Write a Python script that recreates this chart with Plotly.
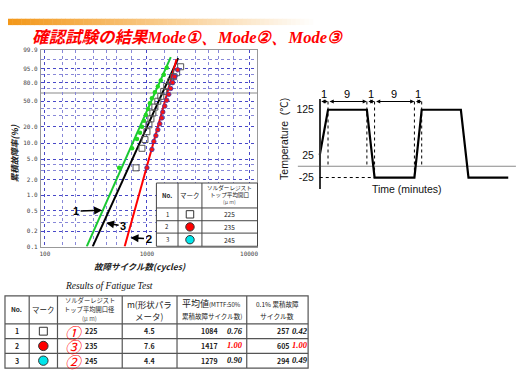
import numpy as np
import plotly.graph_objects as go

W, H = 520, 389
def px(x): return x / W
def py(y): return 1 - y / H

SANS = "Noto Sans CJK JP, Liberation Sans, sans-serif"
SERIF = "Liberation Serif, serif"

# ---------------- Weibull plot data (cycles, cumulative failure %) ----------------
green_cycles = [534, 715, 799, 855, 894, 935, 978, 1023, 1069, 1118, 1196, 1278, 1367, 1462, 1563]
green_pct = [3.4, 8.0, 11.9, 15.5, 19.7, 24.9, 31.2, 38.5, 47.0, 54.7, 64.4, 74.0, 82.7, 89.8, 95.6]
square_cycles = [782, 894, 956, 1000, 1046, 1094, 1143, 1196, 1278, 1367, 1462, 1563, 1709, 1828, 1955, 2139]
square_pct = [3.4, 8.0, 11.6, 16.1, 21.3, 26.9, 33.5, 41.3, 50.0, 57.9, 66.0, 74.0, 81.3, 87.7, 91.8, 96.2]
red_cycles = [1000, 1118, 1169, 1223, 1278, 1337, 1398, 1430, 1495, 1563, 1635, 1709, 1788, 1870, 2000]
red_pct = [3.4, 7.6, 10.7, 13.7, 17.5, 22.2, 27.9, 34.7, 42.7, 51.6, 61.1, 70.8, 79.9, 87.7, 94.2]

green_line_cycles = [257, 1712]
green_line_pct = [0.1, 99.37]
black_line_cycles = [294, 2024]
black_line_pct = [0.1, 99.2]
red_line_cycles = [605, 1950]
red_line_pct = [0.1, 99.0]

y_tick_pct = [99.9, 95, 80, 50, 20, 10, 5, 2, 1, 0.5, 0.2, 0.1]
y_tick_text = ["99.9", "95.0", "80.0", "50.0", "20.0", "10.0", "5.0", "2.0", "1.0", "0.5", "0.2", "0.1"]
y_minor_pct = [99, 90, 70, 40, 30, 4, 3, 0.4, 0.3]
char_life_pct = 63.2
x_tick_vals = [100, 1000, 10000]
x_tick_text = ["100", "1000", "10000"]
x_minor_vals = [150, 200, 300, 400, 500, 700, 1500, 2000, 3000, 4000, 5000, 7000]

# ---------------- Temperature profile (schematic) ----------------
temp_time = [0, 1, 5.70, 6.63, 11.45, 12.33, 17.07, 17.99, 22.8]
temp_c = [25, 125, 125, -25, -25, 125, 125, -25, -25]
temp_ticks = [125, 25, -25]
seg_labels = ["1", "9", "1", "9", "1"]

# ---------------- Table data ----------------
nos = ["1", "2", "3"]
openings = ["225", "235", "245"]
circled = ["①", "③", "②"]
m_vals = ["4.5", "7.6", "4.4"]
mttf = ["1084", "1417", "1279"]
mttf_ratio = ["0.76", "1.00", "0.90"]
c01 = ["257", "605", "294"]
c01_ratio = ["0.42", "1.00", "0.49"]
ratio_red = [False, True, False]
mark_kind = ["square", "circle", "circle"]
mark_fill = ["white", "#ff0000", "#00e5ea"]


def wb(p):
    return np.log(-np.log(1 - np.asarray(p, dtype=float) / 100.0))


fig = go.Figure()
for xs, ps, col in [(green_line_cycles, green_line_pct, "#19c832"),
                    (black_line_cycles, black_line_pct, "#000000"),
                    (red_line_cycles, red_line_pct, "#ff0000")]:
    fig.add_trace(go.Scatter(x=xs, y=wb(ps), mode="lines", line=dict(color=col, width=2),
                             xaxis="x", yaxis="y", hoverinfo="skip"))
fig.add_trace(go.Scatter(x=green_cycles, y=wb(green_pct), mode="markers",
                         marker=dict(color="#22d822", size=4.5), xaxis="x", yaxis="y"))
fig.add_trace(go.Scatter(x=square_cycles, y=wb(square_pct), mode="markers",
                         marker=dict(symbol="square-open", color="#555", size=6, line=dict(width=1)),
                         xaxis="x", yaxis="y"))
fig.add_trace(go.Scatter(x=red_cycles, y=wb(red_pct), mode="markers",
                         marker=dict(color="#ff1010", size=4.5, line=dict(color="#3a3ab0", width=0.8)),
                         xaxis="x", yaxis="y"))

fig.add_trace(go.Scatter(x=temp_time, y=temp_c, mode="lines", line=dict(color="black", width=2.2),
                         xaxis="x2", yaxis="y2", hoverinfo="skip"))

shapes = []
ann = []


def T(x, y, text, size=7, color="#222", family=SANS, xanchor="center", yanchor="middle", angle=0):
    ann.append(dict(x=px(x), y=py(y), xref="paper", yref="paper", text=text, showarrow=False,
                    font=dict(size=size, color=color, family=family), xanchor=xanchor,
                    yanchor=yanchor, textangle=angle, borderpad=0))


def line(x0, y0, x1, y1, color="#555", width=1, dash="solid"):
    shapes.append(dict(type="line", xref="paper", yref="paper", x0=px(x0), y0=py(y0), x1=px(x1),
                       y1=py(y1), line=dict(color=color, width=width, dash=dash), layer="above"))


def mark(cx, cy, kind, fill, s):
    if kind == "square":
        shapes.append(dict(type="rect", xref="paper", yref="paper", x0=px(cx - s / 2), x1=px(cx + s / 2),
                           y0=py(cy + s / 2), y1=py(cy - s / 2), line=dict(color="#333", width=1),
                           fillcolor="white", layer="above"))
    else:
        shapes.append(dict(type="circle", xref="paper", yref="paper", x0=px(cx - s / 2), x1=px(cx + s / 2),
                           y0=py(cy + s / 2), y1=py(cy - s / 2), line=dict(color="#333", width=1),
                           fillcolor=fill, layer="above"))


# gradient bar at top
n = 70
x_start, x_end = 7, 318
for i in range(n):
    f = i / (n - 1)
    r = int(243 + (255 - 243) * f)
    g = int(152 + (255 - 152) * f)
    b = int(26 + (255 - 26) * f)
    xa = x_start + (x_end - x_start) * i / n
    xb = x_start + (x_end - x_start) * (i + 1) / n + 0.5
    shapes.append(dict(type="rect", xref="paper", yref="paper", x0=px(xa), x1=px(xb), y0=py(21.5), y1=py(15),
                       line=dict(width=0), fillcolor=f"rgb({r},{g},{b})", layer="below"))

# title
T(30, 32.5, "<b><i>確認試験の結果<span style='font-family:Liberation Serif'>Mode①、Mode②、Mode③</span></i></b>",
  size=16.5, color="#ff0000", xanchor="left")

# Weibull characteristic-life line (63.2 %)
shapes.append(dict(type="line", xref="x domain", yref="y", x0=0, x1=1, y0=float(wb(char_life_pct)),
                   y1=float(wb(char_life_pct)), line=dict(color="#b0b0b0", width=1.5), layer="below"))

# axis titles Weibull
T(13, 152, "<b><i>累積故障率(%)</i></b>", size=8.5, angle=-90)
T(140, 267, "<b><i>故障サイクル数(cycles)</i></b>", size=8.5)

# line labels with arrows
for label, head, off in [("1", (101.5, 210), (-26, 1)), ("3", (105.5, 223), (17, 3)), ("2", (130, 238), (18, 1))]:
    ann.append(dict(x=px(head[0]), y=py(head[1]), xref="paper", yref="paper", text=f"<b>{label}</b>",
                    showarrow=True, ax=off[0], ay=off[1], arrowhead=2, arrowsize=1, arrowwidth=1.6,
                    arrowcolor="black", font=dict(size=11, color="black", family="Liberation Sans"),
                    standoff=0))

# legend table inside Weibull plot
lx = [156, 177.7, 201.7, 257.5]
ly = [182.3, 207.7, 220.7, 233.3, 246.7]
shapes.append(dict(type="rect", xref="paper", yref="paper", x0=px(lx[0]), x1=px(lx[-1]), y0=py(ly[-1]),
                   y1=py(ly[0]), line=dict(color="#444", width=1), fillcolor="white", layer="above"))
for xv in lx[1:-1]:
    line(xv, ly[0], xv, ly[-1], color="#444")
for yv in ly[1:-1]:
    line(lx[0], yv, lx[-1], yv, color="#444")
T((lx[0] + lx[1]) / 2, 195, "<b>No.</b>", size=6)
T((lx[1] + lx[2]) / 2, 195, "マーク", size=6.5)
T((lx[2] + lx[3]) / 2, 187.5, "ソルダーレジスト", size=5.6)
T((lx[2] + lx[3]) / 2, 194.5, "トップ平均開口", size=5.6)
T((lx[2] + lx[3]) / 2, 201.5, "(μ m)", size=5.2, color="#666")
for i in range(3):
    cy = (ly[i + 1] + ly[i + 2]) / 2
    T((lx[0] + lx[1]) / 2, cy, nos[i], size=6)
    mark((lx[1] + lx[2]) / 2, cy, mark_kind[i], mark_fill[i], 7.5 if mark_kind[i] == "square" else 8.5)
    T((lx[2] + lx[3]) / 2, cy, openings[i], size=6.5)

# ---------------- temperature chart decorations ----------------
dim_y = 143.3
for i in range(5):
    ann.append(dict(x=temp_time[i + 1], y=dim_y, ax=temp_time[i], ay=dim_y, xref="x2", yref="y2",
                    axref="x2", ayref="y2", text="", showarrow=True, arrowside="end+start",
                    arrowhead=2, startarrowhead=2, arrowsize=0.7, startarrowsize=0.7, arrowwidth=1.2,
                    arrowcolor="black", standoff=0, startstandoff=0))
    ann.append(dict(x=(temp_time[i] + temp_time[i + 1]) / 2, y=py(91.5), xref="x2", yref="paper",
                    text=seg_labels[i], showarrow=False, yanchor="middle",
                    font=dict(size=11, color="black", family="Liberation Sans")))
drops = [0, 0, -25, -25, 0]
for i in range(1, 6):
    shapes.append(dict(type="line", xref="x2", yref="y2", x0=temp_time[i], x1=temp_time[i], y0=dim_y,
                       y1=drops[i - 1], line=dict(color="black", width=1, dash="dot")))
shapes.append(dict(type="line", xref="x2", yref="y2", x0=0, x1=temp_time[3], y0=-25, y1=-25,
                   line=dict(color="black", width=1, dash="dot")))
shapes.append(dict(type="line", xref="x2 domain", yref="y2", x0=0, x1=0.995, y0=0, y1=0,
                   line=dict(color="#8a8a8a", width=1.2), layer="below"))
T(283.5, 137, "Temperature  (℃)", size=10.5, color="#111", angle=-90, family="Liberation Sans, Noto Sans CJK JP")
T(408, 188.5, "Time (minutes)", size=10.5, color="#111", family="Liberation Sans")

# ---------------- results table ----------------
T(108, 287.5, "<i>Results of Fatigue Test</i>", size=9.5, color="#111", family=SERIF)
cx = [4, 28.3, 56.7, 121.7, 176.7, 246.7, 308.3]
ry = [297.3, 325.7, 340.7, 355.7, 370.7]
shapes.append(dict(type="rect", xref="paper", yref="paper", x0=px(cx[0]), x1=px(cx[-1]), y0=py(ry[-1]),
                   y1=py(ry[0]), line=dict(color="#555", width=1.2), fillcolor="rgba(0,0,0,0)", layer="above"))
for xv in cx[1:-1]:
    line(xv, ry[0], xv, ry[-1], color="#555", width=1.2)
for yv in ry[1:-1]:
    line(cx[0], yv, cx[-1], yv, color="#555", width=1.2)
T(16, 311, "<b>No.</b>", size=6.5)
T(42.5, 311, "マーク", size=7.5)
T(89, 302, "ソルダーレジスト", size=6.3)
T(89, 311.5, "トップ平均開口径", size=6.3)
T(89, 320.5, "(μ m)", size=6, color="#555")
T(149, 305, "m(形状パラ", size=8.5)
T(149, 318, "メータ)", size=8.5)
T(211.5, 305, "平均値<span style='font-size:6px'>(MTTF:50%</span>", size=9)
T(211.5, 318, "累積故障サイクル数)", size=6.5)
T(277.5, 305, "0.1% 累積故障", size=6.5)
T(277.5, 318, "サイクル数", size=6.8)
for i in range(3):
    cy = (ry[i + 1] + ry[i + 2]) / 2
    T(16, cy, f"<b>{nos[i]}</b>", size=7)
    mark(42.5, cy, mark_kind[i], mark_fill[i], 8 if mark_kind[i] == "square" else 9.5)
    T(90.5, cy, f"<b>{openings[i]}</b>", size=7)
    T(73, cy + 0.5, f"<i>{circled[i]}</i>", size=15.5, color="#ff0000")
    T(149, cy, f"<b>{m_vals[i]}</b>", size=7)
    T(218.5, cy, f"<b>{mttf[i]}</b>", size=7, xanchor="right")
    T(225.5, cy - 0.5, f"<b><i>{mttf_ratio[i]}</i></b>", size=8.5, family=SERIF,
      color="#ff0000" if ratio_red[i] else "#111", xanchor="left")
    T(290, cy, f"<b>{c01[i]}</b>", size=7, xanchor="right")
    T(291.5, cy - 0.5, f"<b><i>{c01_ratio[i]}</i></b>", size=8.5, family=SERIF,
      color="#ff0000" if ratio_red[i] else "#111", xanchor="left")

grid_kw = dict(showgrid=True, gridcolor="#4848c8", griddash="dot", gridwidth=1)
fig.update_layout(
    width=W, height=H, margin=dict(l=0, r=0, t=0, b=0), paper_bgcolor="white", plot_bgcolor="white",
    showlegend=False, font=dict(family=SANS),
    xaxis=dict(type="log", domain=[px(40), px(257)], range=[2 - 4 / 102.5, 2 + 213 / 102.5],
               tickmode="array", tickvals=x_tick_vals, ticktext=x_tick_text,
               tickfont=dict(size=6, family="DejaVu Sans Mono", color="#444"),
               minor=dict(tickmode="array", tickvals=x_minor_vals, showgrid=True, gridcolor="#8888d8",
                          griddash="dot", gridwidth=1, ticks=""),
               showline=True, mirror=True, linecolor="#999", linewidth=1, ticks="", zeroline=False,
               anchor="y", ticklabelstandoff=1, **grid_kw),
    yaxis=dict(domain=[py(247), py(47)], range=[float(wb(0.1)), float(wb(99.9))],
               tickmode="array", tickvals=[float(v) for v in wb(y_tick_pct)], ticktext=y_tick_text,
               tickfont=dict(size=6, family="DejaVu Sans Mono", color="#444"),
               minor=dict(tickmode="array", tickvals=[float(v) for v in wb(y_minor_pct)], showgrid=True,
                          gridcolor="#8888d8", griddash="dot", gridwidth=1, ticks=""),
               showline=True, mirror=True, linecolor="#999", linewidth=1, ticks="", zeroline=False,
               anchor="x", ticklabelstandoff=1, **grid_kw),
    xaxis2=dict(domain=[px(298), px(518)], range=[-2.65, 23.86], visible=False, anchor="y2"),
    yaxis2=dict(domain=[py(188.3), py(96.7)], range=[-50.2, 148.9], anchor="free", position=px(320),
                showline=True, linecolor="#333", linewidth=1.5, showgrid=False, zeroline=False,
                tickmode="array", tickvals=temp_ticks, ticktext=[str(v) for v in temp_ticks], ticks="",
                tickfont=dict(size=10.5, color="#111", family="Liberation Sans"), ticklabelstandoff=3),
    shapes=shapes, annotations=ann,
)

fig.write_html("out.html", config={"displayModeBar": False},
               post_script="document.body.style.margin='0px';")
